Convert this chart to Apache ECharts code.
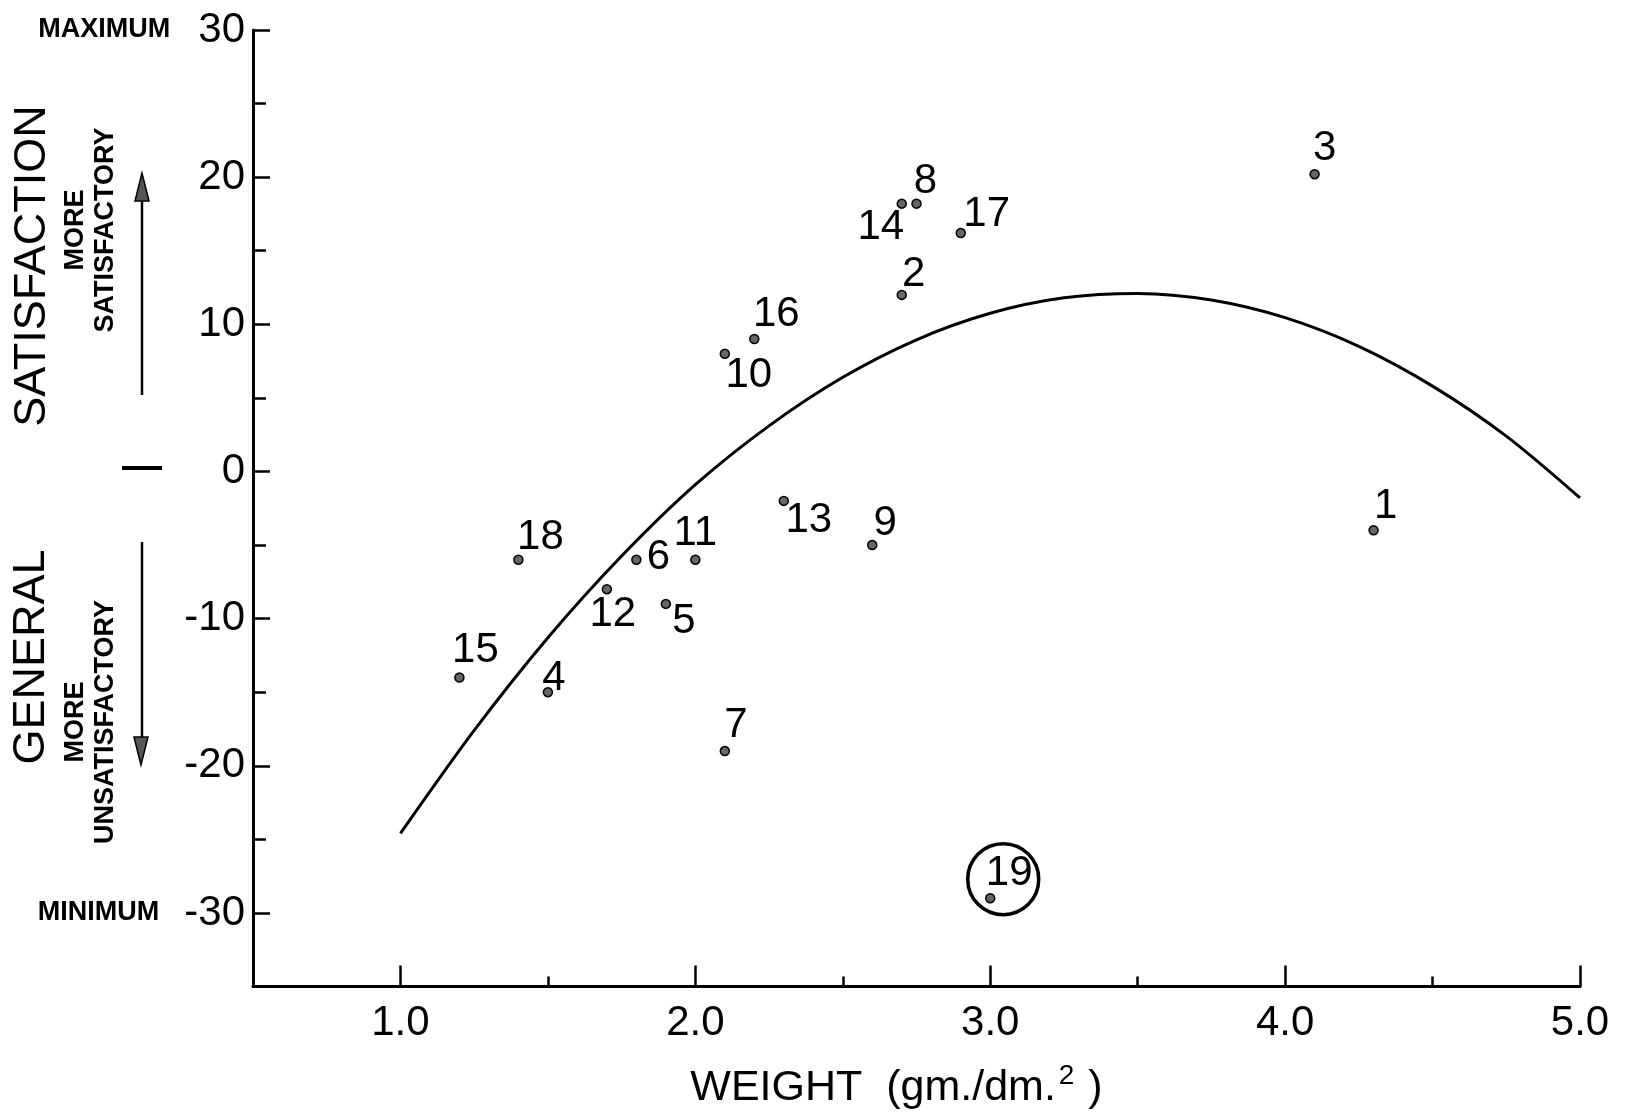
<!DOCTYPE html>
<html>
<head>
<meta charset="utf-8">
<script src="https://cdn.jsdelivr.net/npm/echarts@6/dist/echarts.min.js"></script>
<style>
html,body{margin:0;padding:0;background:#fff;}
#chart{width:1627px;height:1115px;}
</style>
</head>
<body>
<div id="chart"></div>
<script>
// ---- data ----
const pointIds = ['1','2','3','4','5','6','7','8','9','10','11','12','13','14','15','16','17','18','19'];
const weights = [4.3, 2.7, 4.1, 1.5, 1.9, 1.8, 2.1, 2.75, 2.6, 2.1, 2.0, 1.7, 2.3, 2.7, 1.2, 2.2, 2.9, 1.4, 3.0];
const satisfaction = [-4, 12, 20.2, -15, -9, -6, -19, 18.2, -5, 8, -6, -8, -2, 18.2, -14, 9, 16.2, -6, -29];
const circledId = '19';

// fitted curve
const curveX = [1.0, 1.25, 1.5, 1.75, 2.0, 2.25, 2.5, 2.75, 3.0, 3.25, 3.5, 3.75, 4.0, 4.25, 4.5, 4.75, 5.0];
const curveY = [-24.6, -17.6, -11.3, -5.75, -0.9, 3.1, 6.4, 8.95, 10.75, 11.8, 12.1, 11.65, 10.45, 8.5, 5.8, 2.4, -1.8];

// axis ticks
const xTickValues = [1, 2, 3, 4, 5];
const xMinorTicks = [1.5, 2.5, 3.5, 4.5];
const yTickValues = [-30, -20, -10, 0, 10, 20, 30];
const yMinorTicks = [-25, -15, -5, 5, 15, 25];

// label placement (style, pixels from dot)
const labelOffsets = [[12,-24],[12,-20],[10,-26],[6,-14],[18,18],[22,-2],[11,-26],[9,-22],[13,-22],[24,22],[0,-26],[6,25],[25,20],[-21,24],[16,-27],[22,-25],[26,-19],[22,-22],[19,-25]];

const FONT = "'Liberation Sans', 'DejaVu Sans', sans-serif";
const INK = '#000';

const points = pointIds.map((id, i) => ({
  name: id,
  value: [weights[i], satisfaction[i]],
  label: { offset: labelOffsets[i] }
}));
const ci = pointIds.indexOf(circledId);
const curve = curveX.map((x, i) => [x, curveY[i]]);

const chart = echarts.init(document.getElementById('chart'), null, {renderer: 'canvas'});
chart.setOption({
  animation: false,
  backgroundColor: '#fff',
  grid: {left: 253, right: 47, top: 30, bottom: 128},
  xAxis: [{
    type: 'value', min: 0.5, max: 5.0,
    axisLine: {show: true, onZero: false, lineStyle: {color: INK, width: 3}},
    axisTick: {show: true, inside: true, length: 21, customValues: xTickValues, lineStyle: {color: INK, width: 2.5}},
    axisLabel: {show: true, customValues: xTickValues, margin: 16, fontFamily: FONT, fontSize: 42, color: INK,
      formatter: v => v.toFixed(1)},
    splitLine: {show: false},
    name: '{m|WEIGHT  (gm./dm.}{s|2}{m| )}',
    nameLocation: 'middle', nameGap: 76,
    nameTextStyle: {
      padding: [0, 40, 0, 0],
      rich: {
        m: {fontFamily: FONT, fontSize: 43, lineHeight: 52, color: INK, verticalAlign: 'middle'},
        s: {fontFamily: FONT, fontSize: 28, lineHeight: 30, color: INK, verticalAlign: 'top', padding: [0, 2, 0, 3]}
      }
    }
  }, {
    type: 'value', min: 0.5, max: 5.0, position: 'bottom',
    axisLine: {show: false, onZero: false},
    axisTick: {show: true, inside: true, length: 10, customValues: xMinorTicks, lineStyle: {color: INK, width: 2.5}},
    axisLabel: {show: false},
    splitLine: {show: false}
  }],
  yAxis: [{
    type: 'value', min: -35, max: 30,
    axisLine: {show: true, onZero: false, lineStyle: {color: INK, width: 3}},
    axisTick: {show: true, inside: true, length: 17, customValues: yTickValues, lineStyle: {color: INK, width: 2.5}},
    axisLabel: {show: true, customValues: yTickValues, margin: 8, fontFamily: FONT, fontSize: 42, color: INK,
      formatter: v => {
        if (v === 30) return '{a|MAXIMUM}{n|30}';
        if (v === -30) return '{b|MINIMUM}{n|-30}';
        return '{n|' + v + '}';
      },
      rich: {
        n: {fontFamily: FONT, fontSize: 42, color: INK, verticalAlign: 'middle'},
        a: {fontFamily: FONT, fontSize: 27, fontWeight: 'bold', color: INK, padding: [0, 28, 0, 0], verticalAlign: 'middle'},
        b: {fontFamily: FONT, fontSize: 27, fontWeight: 'bold', color: INK, padding: [0, 25, 0, 0], verticalAlign: 'middle'}
      }
    },
    splitLine: {show: false}
  }, {
    type: 'value', min: -35, max: 30, position: 'left',
    axisLine: {show: false, onZero: false},
    axisTick: {show: true, inside: true, length: 13, customValues: yMinorTicks, lineStyle: {color: INK, width: 2.5}},
    axisLabel: {show: false},
    splitLine: {show: false}
  }],
  series: [{
    type: 'line',
    data: curve,
    smooth: 0.3,
    showSymbol: false,
    lineStyle: {color: INK, width: 3},
    z: 2
  }, {
    type: 'scatter',
    data: points,
    symbol: 'circle',
    symbolSize: 9,
    itemStyle: {color: '#666', borderColor: '#000', borderWidth: 1.5, opacity: 1},
    label: {
      show: true, position: 'inside',
      formatter: p => p.name,
      fontFamily: FONT, fontSize: 42, color: INK, opacity: 1,
      textBorderWidth: 0, textBorderColor: 'transparent'
    },
    z: 3
  }, {
    type: 'scatter',
    data: [[weights[ci], satisfaction[ci]]],
    symbol: 'circle',
    symbolSize: 71,
    symbolOffset: [13, -19],
    itemStyle: {color: 'rgba(0,0,0,0)', borderColor: INK, borderWidth: 3.5, opacity: 1},
    silent: true,
    z: 3
  }],
  graphic: [
    {type: 'text', x: 33, y: 266, rotation: Math.PI / 2,
      style: {text: 'SATISFACTION', x: 0, y: 0, font: "normal 45px " + FONT, fill: INK, align: 'center', verticalAlign: 'middle', textAlign: 'center', textVerticalAlign: 'middle'}},
    {type: 'text', x: 32, y: 657, rotation: Math.PI / 2,
      style: {text: 'GENERAL', x: 0, y: 0, font: "normal 45px " + FONT, fill: INK, align: 'center', verticalAlign: 'middle', textAlign: 'center', textVerticalAlign: 'middle'}},
    {type: 'line', shape: {x1: 122, y1: 468, x2: 162, y2: 468}, style: {stroke: INK, lineWidth: 4}},
    {type: 'text', x: 91, y: 230, rotation: Math.PI / 2,
      style: {text: 'MORE\nSATISFACTORY', x: 0, y: 0, font: "bold 27px " + FONT, lineHeight: 30, fill: INK, align: 'center', verticalAlign: 'middle', textAlign: 'center', textVerticalAlign: 'middle'}},
    {type: 'text', x: 91, y: 722, rotation: Math.PI / 2,
      style: {text: 'MORE\nUNSATISFACTORY', x: 0, y: 0, font: "bold 27px " + FONT, lineHeight: 30, fill: INK, align: 'center', verticalAlign: 'middle', textAlign: 'center', textVerticalAlign: 'middle'}},
    {type: 'line', shape: {x1: 142, y1: 395, x2: 142, y2: 195}, style: {stroke: INK, lineWidth: 2.5}},
    {type: 'polygon', shape: {points: [[142, 173], [135, 201], [149, 201]]}, style: {fill: '#555', stroke: INK, lineWidth: 1.5}},
    {type: 'line', shape: {x1: 142, y1: 542, x2: 142, y2: 742}, style: {stroke: INK, lineWidth: 2.5}},
    {type: 'polygon', shape: {points: [[141, 765], [134, 737], [148, 737]]}, style: {fill: '#555', stroke: INK, lineWidth: 1.5}}
  ]
});
</script>
</body>
</html>
